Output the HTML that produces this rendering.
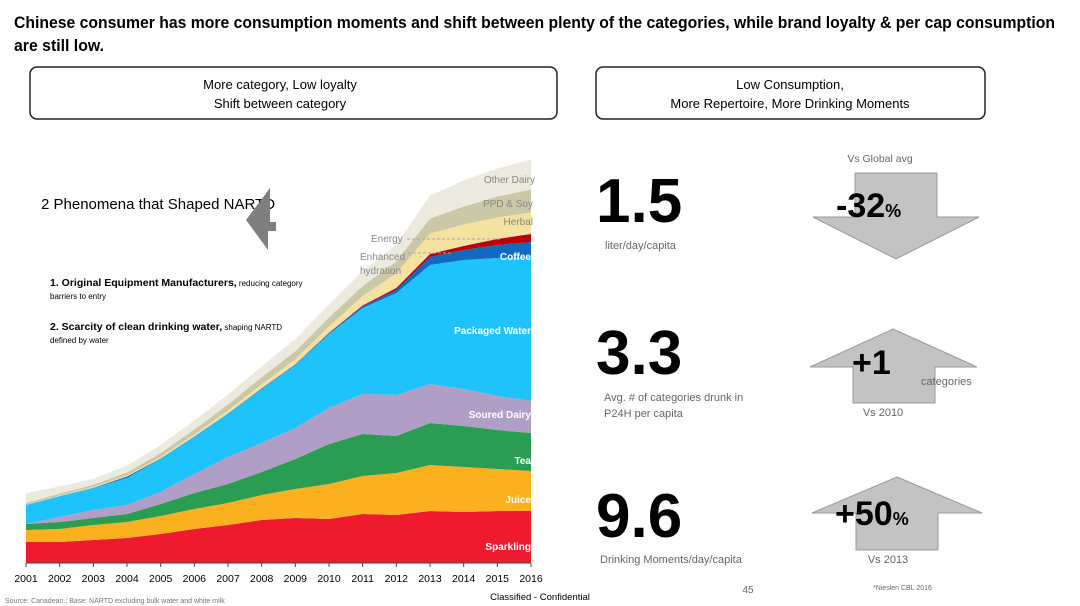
<!DOCTYPE html>
<html><head><meta charset="utf-8"><style>
html,body{margin:0;padding:0;background:#fff;}
svg{display:block;font-family:"Liberation Sans",sans-serif;}
</style></head><body>
<svg id="s" width="1080" height="606" viewBox="0 0 1080 606">
<text x="14" y="28" font-size="17" font-weight="bold" textLength="1041" lengthAdjust="spacingAndGlyphs">Chinese consumer has more consumption moments and shift between plenty of the categories, while brand loyalty &amp; per cap consumption</text>
<text x="14" y="51" font-size="17" font-weight="bold" textLength="90" lengthAdjust="spacingAndGlyphs">are still low.</text>

<rect x="30" y="67" width="527" height="52" rx="7" fill="#fff" stroke="#222" stroke-width="1.5"/>
<text x="280" y="89" font-size="13" text-anchor="middle">More category, Low loyalty</text>
<text x="280" y="108" font-size="13" text-anchor="middle">Shift between category</text>
<rect x="596" y="67" width="389" height="52" rx="7" fill="#fff" stroke="#222" stroke-width="1.5"/>
<text x="790" y="89" font-size="13" text-anchor="middle">Low Consumption,</text>
<text x="790" y="108" font-size="13" text-anchor="middle">More Repertoire, More Drinking Moments</text>

<g id="chart"></g>

<text x="41" y="209" font-size="15">2 Phenomena that Shaped NARTD</text>
<polygon points="270,188 270,222 276,222 276,231 268,231 268,250 246,220 270,188" fill="#7f7f7f"/>
<text x="50" y="286" font-size="10"><tspan font-weight="bold" font-size="10.5">1. Original Equipment Manufacturers,</tspan><tspan font-size="8"> reducing category</tspan></text>
<text x="50" y="299" font-size="8">barriers to entry</text>
<text x="50" y="330" font-size="10"><tspan font-weight="bold" font-size="10.5">2. Scarcity of clean drinking water,</tspan><tspan font-size="8"> shaping NARTD</tspan></text>
<text x="50" y="343" font-size="8">defined by water</text>

<text x="596" y="222" font-size="62" font-weight="bold">1.5</text>
<text x="605" y="249" font-size="11" fill="#666">liter/day/capita</text>
<text x="596" y="374" font-size="62" font-weight="bold">3.3</text>
<text x="604" y="401" font-size="11" fill="#666">Avg. # of categories drunk in</text>
<text x="604" y="417" font-size="11" fill="#666">P24H per capita</text>
<text x="596" y="537" font-size="62" font-weight="bold">9.6</text>
<text x="600" y="563" font-size="11" fill="#666">Drinking Moments/day/capita</text>

<text x="880" y="162" font-size="10.5" fill="#666" text-anchor="middle">Vs Global avg</text>
<polygon points="855,173 937,173 937,217 979,217 896,259 813,217 855,217" fill="#c3c3c3" stroke="#999"/>
<text x="836" y="217" font-size="34" font-weight="bold">-32<tspan font-size="18">%</tspan></text>

<polygon points="893,329 977,367 935,367 935,403 853,403 853,367 810,367" fill="#c3c3c3" stroke="#999"/>
<text x="852" y="374" font-size="34" font-weight="bold">+1</text>
<text x="921" y="385" font-size="11" fill="#666">categories</text>
<text x="883" y="416" font-size="11" fill="#666" text-anchor="middle">Vs 2010</text>

<polygon points="897,477 982,513 938,513 938,550 856,550 856,513 812,513" fill="#c3c3c3" stroke="#999"/>
<text x="835" y="525" font-size="34" font-weight="bold">+50<tspan font-size="18">%</tspan></text>
<text x="888" y="563" font-size="11" fill="#666" text-anchor="middle">Vs 2013</text>

<text x="873" y="590" font-size="7" fill="#666">*Nieslen  CBL 2016</text>
<text x="748" y="593" font-size="10" fill="#666" text-anchor="middle">45</text>
<text x="540" y="600" font-size="9.5" text-anchor="middle">Classified - Confidential</text>
<text x="5" y="603" font-size="7" fill="#777">Source: Canadean.; Base: NARTD excluding bulk water and white milk</text>
</svg>
<script>
const years = [2001,2002,2003,2004,2005,2006,2007,2008,2009,2010,2011,2012,2013,2014,2015,2016];
const seriesNames = ["Sparkling","Juice","Tea","Soured Dairy","Packaged Water","Coffee","Energy","Enhanced hydration","Herbal","PPD & Soy","Other Dairy"];
const sparkling = [21,21,23,25,29,34,38,43,45,44,49,48,52,51,52,52];
const juice = [12,13,15,16,18,20,22,25,29,35,38,42,46,45,42,40];
const tea = [6,7,7,8,12,16,19,23,30,40,42,37,42,41,39,38];
const souredDairy = [0,5,8,9,12,19,27,29,31,36,40,41,39,37,34,32];
const packagedWater = [19,21,22,27,33,37,43,54,63,74,86,102,119,129,138,144];
const coffee = [0,0,0.3,1.5,0.5,0.5,0.5,0.5,0.5,0.7,1.5,3,8,10,13,15];
const energy = [0,0,0,0,0,0,0,0.2,0.3,0.5,1,2,3,4,6,8];
const hydration = [0,0,0,0,0,0,0,0,0,0.3,0.5,0.5,0.5,0.5,0.5,0.5];
const herbal = [0,0.5,1,1,1.5,2,3,4,5,6,9,14,20,21,21,21];
const ppdSoy = [2,2,2,3,4,5,6,7,8,9,10,12,15,18,21,23];
const otherDairy = [10,7,6,7,8,9,10,11,12,13,15,17,23,26,28,30];
const colors = ["#ee1a2e","#fbb11f","#2a9d52","#b09ec6","#1fc3fb","#0f6ac0","#c00000","#9ec8e6","#f5e2a0","#cbc8a8","#eceadf"];
const series = [sparkling,juice,tea,souredDairy,packagedWater,coffee,energy,hydration,herbal,ppdSoy,otherDairy];
const NS="http://www.w3.org/2000/svg";
const g=document.getElementById('chart');
const x0=26,x1=531,base=563;
const xS=i=>x0+(x1-x0)*i/(years.length-1);
const yS=v=>base-v;
let cum=years.map(()=>0);
series.forEach((s,k)=>{
  const lo=cum.slice(); const hi=cum.map((c,i)=>c+s[i]); cum=hi;
  let d='M'+years.map((y,i)=>xS(i)+','+yS(hi[i])).join(' L');
  for(let i=years.length-1;i>=0;i--) d+=' L'+xS(i)+','+yS(lo[i]);
  d+='Z';
  const p=document.createElementNS(NS,'path');
  p.setAttribute('d',d);p.setAttribute('fill',colors[k]);
  
  
  g.appendChild(p);
});
const ax=document.createElementNS(NS,'line');
ax.setAttribute('x1',x0);ax.setAttribute('x2',x1);ax.setAttribute('y1',base);ax.setAttribute('y2',base);ax.setAttribute('stroke','#444');


g.appendChild(ax);
years.forEach((y,i)=>{
  const t=document.createElementNS(NS,'line');
  t.setAttribute('x1',xS(i));t.setAttribute('x2',xS(i));t.setAttribute('y1',base);t.setAttribute('y2',base+4);t.setAttribute('stroke','#444');
  
  
  g.appendChild(t);
  const l=document.createElementNS(NS,'text');
  l.setAttribute('x',xS(i));l.setAttribute('y',582);l.setAttribute('font-size','10.5');l.setAttribute('text-anchor','middle');
  l.textContent=y;
  
  
  g.appendChild(l);
});
const labels=[["Other Dairy",535,183,"#888"],["PPD & Soy",533,207,"#888"],["Herbal",533,225,"#888"],["Coffee",531,260,"#fff"],["Packaged Water",531,334,"#fff"],["Soured Dairy",531,418,"#fff"],["Tea",531,464,"#fff"],["Juice",531,503,"#fff"],["Sparkling",531,550,"#fff"]];
labels.forEach(a=>{
  const t=document.createElementNS(NS,'text');
  t.setAttribute('x',a[1]);t.setAttribute('y',a[2]);t.setAttribute('font-size','10');t.setAttribute('text-anchor','end');t.setAttribute('fill',a[3]);
  if(a[3]=="#fff")t.setAttribute('font-weight','bold');
  t.textContent=a[0];
  
  
  g.appendChild(t);
});
const extra=[["Energy",371,242],["Enhanced",360,260],["hydration",360,274]];
extra.forEach(a=>{
  const t=document.createElementNS(NS,'text');
  t.setAttribute('x',a[1]);t.setAttribute('y',a[2]);t.setAttribute('font-size','10');t.setAttribute('fill','#888');
  t.textContent=a[0];
  
  
  g.appendChild(t);
});
[[407,239,502,239],[408,253,452,253]].forEach(a=>{
  const l=document.createElementNS(NS,'line');
  l.setAttribute('x1',a[0]);l.setAttribute('y1',a[1]);l.setAttribute('x2',a[2]);l.setAttribute('y2',a[3]);
  l.setAttribute('stroke','#aaa');l.setAttribute('stroke-dasharray','3,2');
  
  
  g.appendChild(l);
});
</script>
</body></html>
